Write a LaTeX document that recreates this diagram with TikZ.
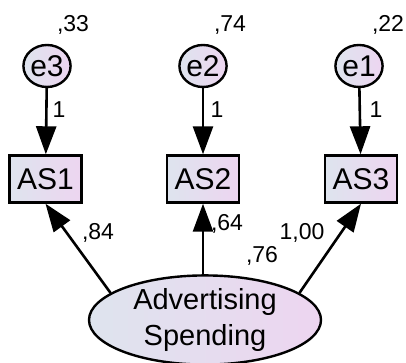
\documentclass[tikz,border=0pt]{standalone}
\usepackage{fontspec}
\setmainfont{Liberation Sans}
\usetikzlibrary{shapes.geometric,arrows.meta}
\definecolor{gl}{HTML}{DEE4EE}
\definecolor{gr}{HTML}{EDD5F0}
\tikzset{
  grad/.style={left color=gl,right color=gr,draw=black,line width=2.4pt},
  errc/.style={grad,ellipse,minimum width=46pt,minimum height=42pt,inner sep=0pt,font=\fontsize{30}{33}\selectfont},
  obsbox/.style={grad,rectangle,minimum width=72pt,minimum height=47pt,inner sep=0pt,font=\fontsize{30}{33}\selectfont},
  latent/.style={grad,ellipse,minimum width=232pt,minimum height=85pt,inner sep=0pt,align=center,font=\fontsize{29}{36}\selectfont},
  num/.style={inner sep=0pt,font=\fontsize{23}{26}\selectfont},
  arr/.style={line width=2.6pt,-{Triangle[length=28pt,width=20pt]}}
}
\begin{document}
\begin{tikzpicture}[x=1pt,y=-1pt]
\useasboundingbox (0,0) rectangle (406,363);
\node[errc] (e3) at (47,66) {e3};
\node[errc] (e2) at (203,66) {e2};
\node[errc] (e1) at (359,66) {e1};
\node[obsbox] (as1) at (45.5,179) {AS1};
\node[obsbox] (as2) at (203,179) {AS2};
\node[obsbox] (as3) at (361,179) {AS3};
\node[latent] (lat) at (205,320) {Advertising\\Spending};
\draw[arr] (e3) -- (as1);
\draw[arr] (e2) -- (as2);
\draw[arr] (e1) -- (as3);
\draw[arr] (lat.164) -- (as1.south);
\draw[arr] (lat.north -| as2) -- (as2.south);
\draw[arr] (lat.16) -- (as3.south);
\node[num] (v3) at (73,25) {,33};
\node[num] (v2) at (230,25) {,74};
\node[num] (v1) at (388,25) {,22};
\node[num] (w3) at (59,110) {1};
\node[num] (w2) at (217,110) {1};
\node[num] (w1) at (376,110) {1};
\node[num] (l1) at (98,233) {,84};
\node[num] (l2) at (227,224) {,64};
\node[num] (l3) at (302,233) {1,00};
\node[num] (vl) at (262,256) {,76};
\end{tikzpicture}
\end{document}
